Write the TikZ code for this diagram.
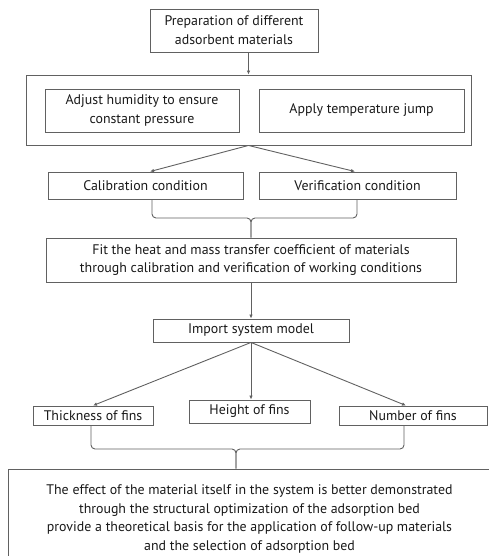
\documentclass[tikz,border=0pt]{standalone}
\usepackage{fontspec}
\setmainfont{PT Sans}
\usetikzlibrary{arrows.meta}
\definecolor{framegray}{gray}{0.38}
\definecolor{inkgray}{gray}{0.1}
\tikzset{
  stage/.style={draw=framegray, line width=0.9pt, inner sep=0pt, align=center,
    text=inkgray, font=\fontsize{13.9}{18.7}\selectfont},
  flow/.style={draw=framegray, line width=0.9pt, -{Latex[length=4pt,width=3.5pt]}},
  brace/.style={draw=framegray, line width=0.9pt, rounded corners=4pt},
}
\begin{document}
\begin{tikzpicture}[x=1pt,y=-1pt]
\useasboundingbox (0,0) rectangle (489,556);

% stages
\node[stage, minimum width=168pt, minimum height=43pt] (prep) at (234,30.5)
  {Preparation of different\\adsorbent materials};
\node[stage, minimum width=445pt, minimum height=70pt] (tests) at (248.5,110) {};
\node[stage, minimum width=194pt, minimum height=43pt] (humid) at (142,110.5)
  {Adjust humidity to ensure\\constant pressure};
\node[stage, minimum width=205pt, minimum height=43pt] (jump) at (361.5,110.5)
  {Apply temperature jump};
\node[stage, minimum width=195pt, minimum height=27pt] (calib) at (145.5,185.5)
  {Calibration condition};
\node[stage, minimum width=197pt, minimum height=27pt] (verif) at (357.5,185.5)
  {Verification condition};
\node[stage, minimum width=410pt, minimum height=44pt] (fit) at (251,260)
  {Fit the heat and mass transfer coefficient of materials\\
   through calibration and verification of working conditions};
\node[stage, minimum width=196pt, minimum height=23pt] (model) at (251,330.5)
  {Import system model};
\node[stage, minimum width=120pt, minimum height=19pt] (thick) at (93,415.5)
  {Thickness of fins};
\node[stage, minimum width=121pt, minimum height=23pt] (height) at (249.5,411.5)
  {Height of fins};
\node[stage, minimum width=148pt, minimum height=19pt] (number) at (413,415.5)
  {Number of fins};
\node[stage, minimum width=483pt, minimum height=100pt] (effect) at (249.5,519)
  {The effect of the material itself in the system is better demonstrated\\
   through the structural optimization of the adsorption bed\\
   provide a theoretical basis for the application of follow-up materials\\
   and the selection of adsorption bed};

% arrows
\draw[flow] (prep.south -| tests.north) -- (tests.north);
\draw[flow] (tests.south) -- ([xshift=4.5pt]calib.north);
\draw[flow] (tests.south) -- ([xshift=-2.5pt]verif.north);
\draw[flow] (fit.south) -- (model.north);
\draw[flow] (model.south) -- (thick.north);
\draw[flow] (model.south) -- ([xshift=1.5pt]height.north);
\draw[flow] (model.south) -- ([xshift=-7pt]number.north);

% braces
\coordinate (join1) at (251,218);
\draw[brace] ([xshift=6.5pt]calib.south) |- (join1) -- (fit.north);
\draw[brace] ([xshift=-0.5pt]verif.south) |- (join1) -- (fit.north);
\coordinate (join2) at (236,449);
\draw[brace] ([xshift=-2pt]thick.south) |- (join2) -- (join2 |- effect.north);
\draw[brace] ([xshift=-9pt]number.south) |- (join2) -- (join2 |- effect.north);
\end{tikzpicture}
\end{document}
